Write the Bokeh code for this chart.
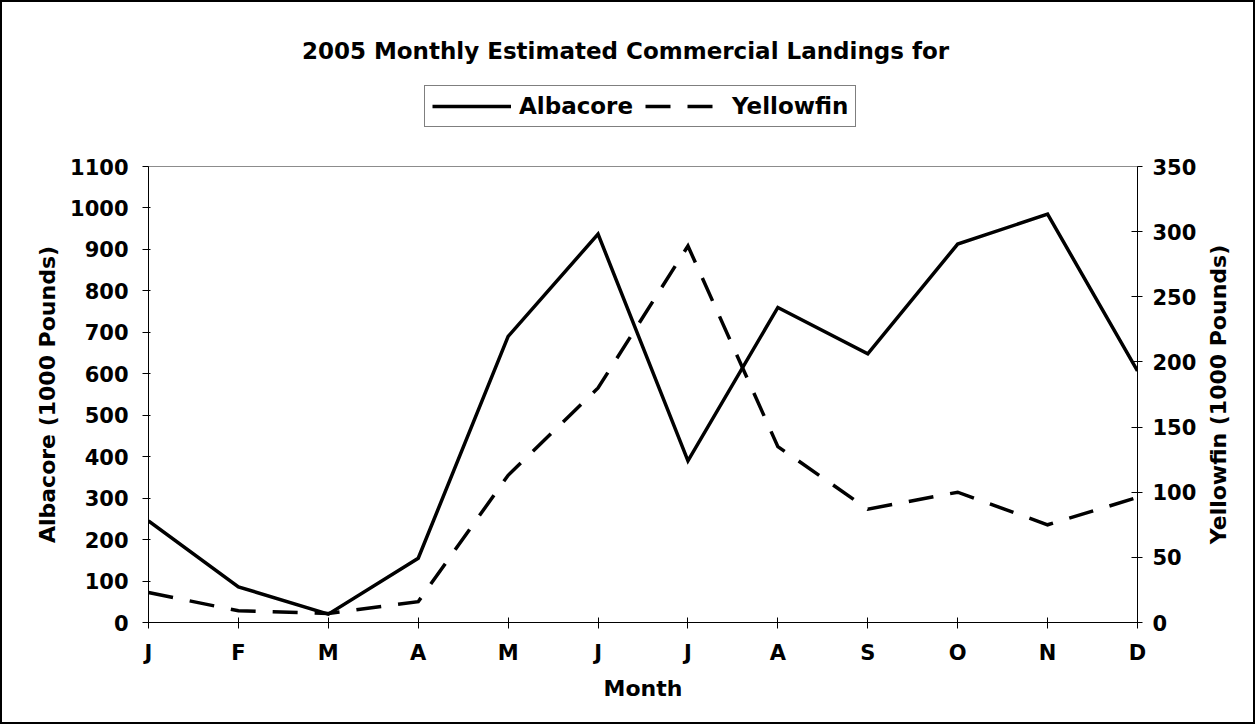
import math
from bokeh.plotting import figure
from bokeh.layouts import row
from bokeh.models import (Range1d, LinearAxis, FixedTicker, Legend, LegendItem, Label, Span)
from bokeh.embed import file_html
from bokeh.resources import INLINE

# ---- data ----
months = ["J", "F", "M", "A", "M", "J", "J", "A", "S", "O", "N", "D"]
albacore = [245, 86, 20, 155, 690, 937, 390, 760, 648, 913, 985, 607]
yellowfin = [23, 9, 7, 16, 113, 180, 289, 135, 87, 100, 75, 96]
left_ticks = list(range(0, 1101, 100))
right_ticks = list(range(0, 351, 50))
left_max, right_max = 1100, 350

title_text = "2005 Monthly Estimated Commercial Landings for"
left_title = "Albacore (1000 Pounds)"
right_title = "Yellowfin (1000 Pounds)"
FONT = "DejaVu Sans"

# ---- layout (pixels) ----
BORDER = 2
H = 720                            # inner height (inside the 2px page border)
LEFT_W, RIGHT_W = 60, 50           # side strips holding the rotated axis titles
B_LEFT, B_RIGHT, B_TOP, B_BOTTOM = 86, 66, 0, 100
FRAME_W = 989
MAIN_W = B_LEFT + FRAME_W + B_RIGHT
AXIS_PX = 456                      # pixel height of the 0..max part of the value axes
frame_h = H - B_TOP - B_BOTTOM
frame_bottom_page = BORDER + B_TOP + frame_h
y_end = left_max * frame_h / AXIS_PX
y2_end = right_max * frame_h / AXIS_PX

x = list(range(len(months)))

p = figure(width=MAIN_W, height=H, output_backend="svg", toolbar_location=None,
           x_range=Range1d(0, len(months) - 1), y_range=Range1d(0, y_end),
           min_border_left=B_LEFT, min_border_right=B_RIGHT,
           min_border_top=B_TOP, min_border_bottom=B_BOTTOM)
p.extra_y_ranges = {"yf": Range1d(0, y2_end)}
p.background_fill_color = "white"
p.border_fill_color = "white"
p.outline_line_color = None
p.xgrid.visible = False
p.ygrid.visible = False

# top edge of the plot area (gray line at the axis maximum)
p.add_layout(Span(location=left_max, dimension="width", line_color="#8c8c8c", line_width=1))

r1 = p.line(x, albacore, line_color="black", line_width=3.5, line_join="miter")
r2 = p.line(x, yellowfin, line_color="black", line_width=3.5, line_dash="25 17",
            line_join="miter", y_range_name="yf")

# x axis
xa = p.xaxis[0]
xa.ticker = FixedTicker(ticks=x)
xa.major_label_overrides = {i: m for i, m in enumerate(months)}
xa.minor_tick_line_color = None
xa.major_tick_in = 5
xa.major_tick_out = 6
xa.major_label_standoff = 12
xa.axis_label = "Month"
xa.axis_label_standoff = 8

# left axis
ya = p.yaxis[0]
ya.ticker = FixedTicker(ticks=left_ticks)
ya.bounds = (0, left_max)
ya.minor_tick_line_color = None
ya.major_tick_in = 2
ya.major_tick_out = 6
ya.major_label_standoff = 14

# right axis
ra = LinearAxis(y_range_name="yf", ticker=FixedTicker(ticks=right_ticks))
ra.bounds = (0, right_max)
ra.minor_tick_line_color = None
ra.major_tick_in = 6
ra.major_tick_out = 5
ra.major_label_standoff = 10
p.add_layout(ra, "right")

for ax in [xa, ya, ra]:
    ax.axis_line_color = "black"
    ax.axis_line_width = 1
    ax.major_tick_line_color = "black"
    ax.major_label_text_font = FONT
    ax.major_label_text_font_style = "bold"
    ax.major_label_text_font_size = "21px"
    ax.major_label_text_color = "black"
    ax.axis_label_text_font = FONT
    ax.axis_label_text_font_style = "bold"
    ax.axis_label_text_font_size = "22px"
    ax.axis_label_text_color = "black"

# title (inside the tall frame, above the axis maximum)
p.add_layout(Label(x=625 - (BORDER + LEFT_W + B_LEFT), y=frame_bottom_page - 50,
                   x_units="screen", y_units="screen",
                   text=title_text, text_align="center", text_baseline="middle",
                   text_font=FONT, text_font_style="bold", text_font_size="23px",
                   text_color="black"))

legend = Legend(items=[LegendItem(label="Albacore", renderers=[r1]),
                       LegendItem(label="Yellowfin", renderers=[r2])],
                location=(424 - (BORDER + LEFT_W + B_LEFT), frame_bottom_page - 127),
                orientation="horizontal")
legend.border_line_color = "black"
legend.border_line_width = 1
legend.background_fill_color = "white"
legend.background_fill_alpha = 1
legend.label_text_font = FONT
legend.label_text_font_style = "bold"
legend.label_text_font_size = "23px"
legend.label_text_color = "black"
legend.glyph_width = 79
legend.glyph_height = 22
legend.label_standoff = 8
legend.spacing = 12
legend.padding = 7
legend.margin = 0
p.add_layout(legend)


def title_strip(width, text, cx):
    # frames of a row are aligned, so y is measured from the main frame's bottom
    s = figure(width=width, height=H, output_backend="svg", toolbar_location=None,
               x_axis_location=None, y_axis_location=None,
               min_border_left=0, min_border_right=0, min_border_top=0, min_border_bottom=0)
    s.grid.visible = False
    s.outline_line_color = None
    s.background_fill_color = "white"
    s.border_fill_color = "white"
    s.add_layout(Label(x=cx, y=AXIS_PX / 2, x_units="screen", y_units="screen",
                       text=text, angle=math.pi / 2, text_align="center", text_baseline="middle",
                       text_font=FONT, text_font_style="bold", text_font_size="22px",
                       text_color="black"))
    return s


left_strip = title_strip(LEFT_W, left_title, 45)
right_strip = title_strip(RIGHT_W, right_title, 15)

layout = row(left_strip, p, right_strip, spacing=0)
layout.styles = {"border": f"{BORDER}px solid black", "box-sizing": "content-box",
                 "width": f"{LEFT_W + MAIN_W + RIGHT_W}px", "height": f"{H}px"}

open("out.html", "w").write(file_html(layout, INLINE))
